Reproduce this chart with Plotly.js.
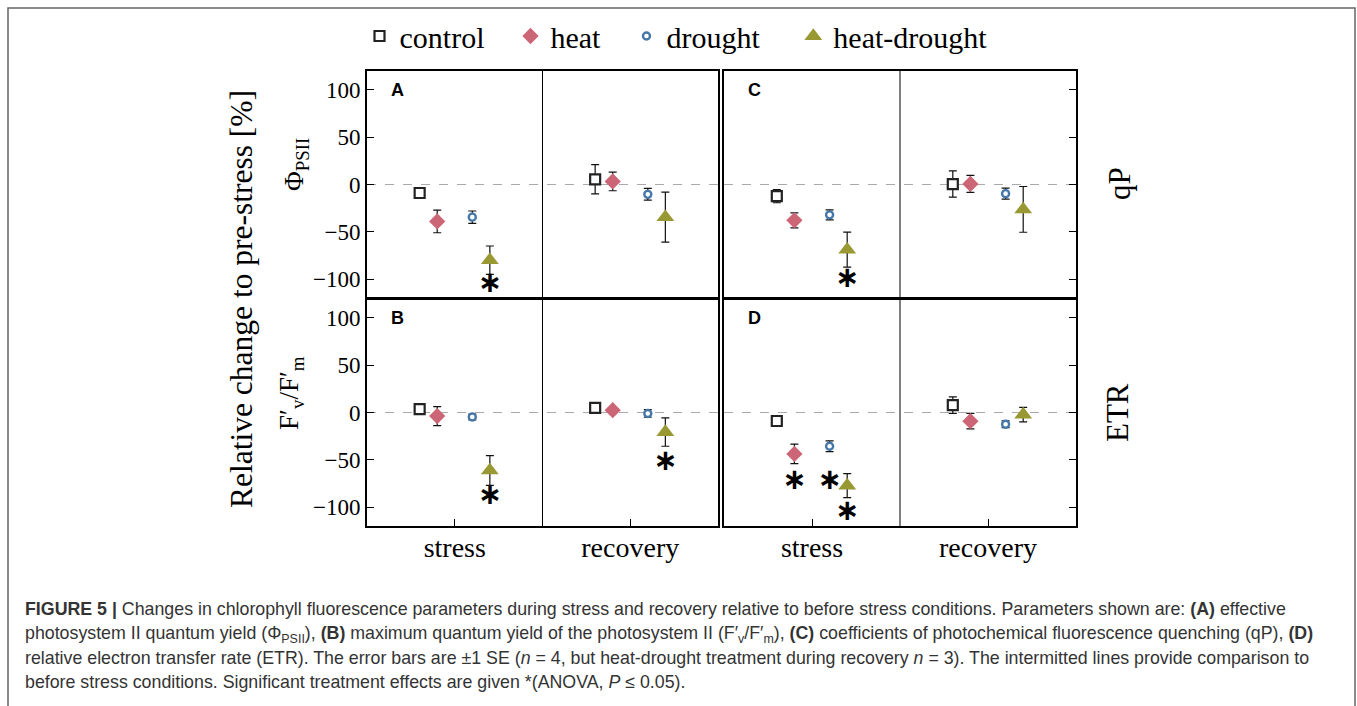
<!DOCTYPE html>
<html><head><meta charset="utf-8">
<script src="https://cdn.plot.ly/plotly-3.0.1.min.js"></script>
<style>html,body{margin:0;padding:0;background:#fff}#chart{width:1357px;height:706px}</style>
</head><body><div id="chart"></div>
<script>
// ---------------- data ----------------
const categories = ["stress", "recovery"];
const treatments = ["control", "heat", "drought", "heat-drought"];
const panelLetters = ["A", "B", "C", "D"];
const yTicks = [-100, -50, 0, 50, 100];

// rows = treatments, columns = categories (stress, recovery)
const phiMean  = [[-9, 5.5], [-39, 3.2], [-34.5, -10.4], [-80, -34.5]];
const phiSE    = [[3, 15.5], [12, 9.8], [6.5, 6.2], [15, 26.5]];
const fvfmMean = [[3.5, 4.9], [-3.8, 2.4], [-4.8, -1], [-61.3, -20.7]];
const fvfmSE   = [[3, 3], [10, 2], [3, 4], [15.7, 15]];
const qpMean   = [[-12.3, 0.5], [-37.9, 0.6], [-32.1, -9.7], [-68.9, -26.3]];
const qpSE     = [[7, 13.9], [7.9, 9], [5.3, 5.8], [18.5, 24.2]];
const etrMean  = [[-9, 7.8], [-43.8, -9.2], [-35.7, -12.4], [-77.3, -2.2]];
const etrSE    = [[3, 8.8], [10.3, 8.2], [5.7, 3.5], [12.7, 7.7]];

// significance asterisks: panel index, treatment index, category index, y position
const sigPanel     = [0, 1, 1, 2, 3, 3, 3];
const sigTreatment = [3, 3, 3, 3, 1, 2, 3];
const sigCategory  = [0, 0, 1, 0, 0, 0, 0];
const sigY         = [-106, -89, -53, -101, -73, -73, -106];

// ---------------- layout helpers ----------------
const W = 1357, H = 706;
const px = v => v / W;
const py = v => 1 - v / H;
const offsets = [-0.2, -0.1, 0.1, 0.2];
const legendPad = ["\u00a0\u00a0\u2009", "\u00a0\u00a0\u2009", "\u00a0\u00a0\u00a0\u2009", ""];
const serif = "Liberation Serif, Times New Roman, serif";
const sans = "Liberation Sans, Arial, sans-serif";

const markers = [
  {symbol: "square", size: 10, color: "#ffffff", line: {color: "#222222", width: 2.2}},
  {symbol: "diamond", size: 12.5, color: "#cc6677", line: {width: 0}},
  {symbol: "circle", size: 7, color: "#ffffff", line: {color: "#4477aa", width: 2.4}},
  {symbol: "triangle-up", size: 15.5, color: "#999933", line: {width: 0}}
];

const panels = [
  {mean: phiMean,  se: phiSE,  xa: "x",  ya: "y"},
  {mean: fvfmMean, se: fvfmSE, xa: "x2", ya: "y2"},
  {mean: qpMean,   se: qpSE,   xa: "x3", ya: "y3"},
  {mean: etrMean,  se: etrSE,  xa: "x4", ya: "y4"}
];

const traces = [];
panels.forEach((p, pi) => {
  treatments.forEach((t, ti) => {
    traces.push({
      type: "scatter", mode: "markers",
      name: t + legendPad[ti], legendgroup: t, showlegend: pi === 0,
      x: categories.map((c, ci) => ci + 0.5 + offsets[ti]),
      y: p.mean[ti],
      error_y: {type: "data", array: p.se[ti], visible: true, color: "#111", thickness: 1.2, width: 4},
      marker: markers[ti],
      xaxis: p.xa, yaxis: p.ya, hoverinfo: "skip"
    });
  });
  const idx = sigPanel.map((v, i) => i).filter(i => sigPanel[i] === pi);
  traces.push({
    type: "scatter", mode: "text", showlegend: false,
    x: idx.map(i => sigCategory[i] + 0.5 + offsets[sigTreatment[i]]),
    y: idx.map(i => sigY[i]),
    text: idx.map(() => "∗"),
    textposition: "middle center",
    textfont: {family: "DejaVu Sans", size: 29, color: "#000", weight: "bold"},
    xaxis: p.xa, yaxis: p.ya, hoverinfo: "skip"
  });
});

const colDom = [[px(367), px(718)], [px(724), px(1076)]];
const rowDom = [[py(298), py(71)], [py(526), py(299)]];

function xAxis(col, row, anchor) {
  return {
    domain: colDom[col], anchor: anchor, range: [0, 2],
    tickvals: categories.map((c, i) => i + 0.5), ticktext: categories,
    ticks: row === 1 ? "inside" : "", ticklen: 7, tickcolor: "#000", tickwidth: 1,
    showticklabels: row === 1, ticklabelstandoff: -5,
    tickfont: {family: serif, size: 28, color: "#000"},
    showline: true, mirror: true, linecolor: "#000", linewidth: 2,
    showgrid: false, zeroline: false, fixedrange: true
  };
}
function yAxis(col, row, anchor) {
  return {
    domain: rowDom[row], anchor: anchor, range: [-120, 120],
    tickvals: yTicks, ticks: "inside", ticklen: 7, tickcolor: "#000", tickwidth: 1,
    side: col === 0 ? "left" : "right",
    showticklabels: col === 0,
    tickfont: {family: serif, size: 23, color: "#000"},
    showline: true, mirror: true, linecolor: "#000", linewidth: 2,
    showgrid: false, zeroline: false, fixedrange: true
  };
}

const shapes = [];
const annotations = [];
panels.forEach((p, pi) => {
  const xd = p.xa + " domain", yd = p.ya + " domain";
  shapes.push({type: "line", xref: xd, yref: p.ya, x0: 0, x1: 1, y0: 0, y1: 0,
    line: {color: "#aaaaaa", width: 1.2, dash: "dash"}, layer: "below"});
  shapes.push({type: "line", xref: p.xa, yref: yd, x0: 1, x1: 1, y0: 0, y1: 1,
    line: {color: "#000", width: 1}});
  annotations.push({xref: xd, yref: yd, x: 0.088, y: 0.916, xanchor: "center", yanchor: "middle",
    text: "<b>" + panelLetters[pi] + "</b>",
    showarrow: false, font: {family: sans, size: 18, color: "#000"}});
});

// outer frame
shapes.push({type: "rect", xref: "paper", yref: "paper", x0: px(8), x1: px(1355), y0: -0.02, y1: py(8),
  line: {color: "#666", width: 1.5}});

// axis/side labels
function sideLabel(x, y, text, size) {
  annotations.push({xref: "paper", yref: "paper", x: px(x), y: py(y), xanchor: "center", yanchor: "middle",
    textangle: -90, text: text, showarrow: false, font: {family: serif, size: size, color: "#000"}});
}
sideLabel(241, 299, "Relative change to pre-stress [%]", 31.5);
sideLabel(296, 165, "Φ<sub>PSII</sub>", 27);
sideLabel(291, 393, "F′<sub>v</sub>/F′<sub>m</sub>", 27);
sideLabel(1120, 184, "qP", 31);
sideLabel(1118, 413, "ETR", 31);

// caption
const captionLines = [
  "<b>FIGURE 5 |</b> Changes in chlorophyll fluorescence parameters during stress and recovery relative to before stress conditions. Parameters shown are: <b>(A)</b> effective",
  "photosystem II quantum yield (Φ<sub>PSII</sub>), <b>(B)</b> maximum quantum yield of the photosystem II (F′<sub>v</sub>/F′<sub>m</sub>), <b>(C)</b> coefficients of photochemical fluorescence quenching (qP), <b>(D)</b>",
  "relative electron transfer rate (ETR). The error bars are ±1 SE (<i>n</i> = 4, but heat-drought treatment during recovery <i>n</i> = 3). The intermitted lines provide comparison to",
  "before stress conditions. Significant treatment effects are given *(ANOVA, <i>P</i> ≤ 0.05)."
];
const captionY = [609, 634, 658, 682];
captionLines.forEach((t, i) => {
  annotations.push({xref: "paper", yref: "paper", x: px(23), y: py(captionY[i]), xanchor: "left", yanchor: "middle",
    text: t, showarrow: false, align: "left", font: {family: sans, size: 17.8, color: "#333"}});
});

const layout = {
  width: W, height: H,
  margin: {l: 0, r: 0, t: 0, b: 0},
  paper_bgcolor: "#fff", plot_bgcolor: "rgba(0,0,0,0)",
  showlegend: true,
  legend: {orientation: "h", x: px(676), xanchor: "center", y: py(36), yanchor: "middle",
    font: {family: serif, size: 30, color: "#000"}, bgcolor: "rgba(0,0,0,0)", itemclick: false, itemdoubleclick: false},
  xaxis: xAxis(0, 0, "y"), yaxis: yAxis(0, 0, "x"),
  xaxis2: xAxis(0, 1, "y2"), yaxis2: yAxis(0, 1, "x2"),
  xaxis3: xAxis(1, 0, "y3"), yaxis3: yAxis(1, 0, "x3"),
  xaxis4: xAxis(1, 1, "y4"), yaxis4: yAxis(1, 1, "x4"),
  shapes: shapes, annotations: annotations
};

Plotly.newPlot("chart", traces, layout, {displayModeBar: false, staticPlot: true});
</script></body></html>
